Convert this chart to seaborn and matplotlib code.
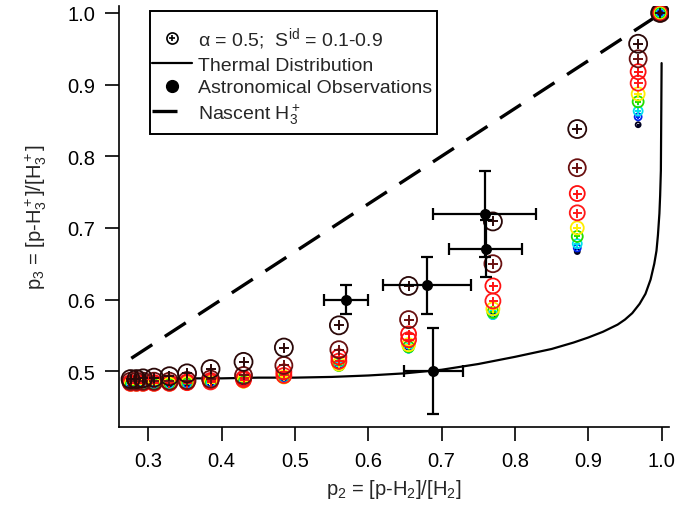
import numpy as np
import pandas as pd
import matplotlib
matplotlib.use("Agg")
import matplotlib.pyplot as plt
import seaborn as sns
from matplotlib.lines import Line2D
from matplotlib.patches import Rectangle

# ---------------- data ----------------
model_p2 = [0.276, 0.284, 0.293, 0.308, 0.329, 0.353, 0.385, 0.430, 0.485, 0.560,
            0.655, 0.770, 0.885, 0.968, 0.998]
s_levels = [0.9, 0.8, 0.7, 0.6, 0.5, 0.4, 0.3, 0.2, 0.1]
p3_s09 = [0.489, 0.489, 0.490, 0.491, 0.493, 0.497, 0.503, 0.513, 0.533, 0.564, 0.619, 0.709, 0.838, 0.957, 1.0]
p3_s08 = [0.486, 0.486, 0.486, 0.486, 0.486, 0.487, 0.489, 0.494, 0.508, 0.530, 0.572, 0.650, 0.784, 0.936, 1.0]
p3_s07 = [0.484, 0.484, 0.484, 0.484, 0.484, 0.485, 0.487, 0.490, 0.499, 0.520, 0.552, 0.619, 0.748, 0.918, 1.0]
p3_s06 = [0.483, 0.483, 0.483, 0.483, 0.483, 0.484, 0.485, 0.488, 0.494, 0.514, 0.544, 0.598, 0.721, 0.902, 1.0]
p3_s05 = [0.482, 0.482, 0.482, 0.482, 0.482, 0.483, 0.484, 0.486, 0.492, 0.510, 0.537, 0.587, 0.700, 0.887, 1.0]
p3_s04 = [0.481, 0.481, 0.482, 0.482, 0.482, 0.482, 0.483, 0.485, 0.491, 0.508, 0.534, 0.582, 0.688, 0.876, 1.0]
p3_s03 = [0.481, 0.481, 0.481, 0.481, 0.482, 0.482, 0.483, 0.485, 0.490, 0.507, 0.532, 0.579, 0.678, 0.863, 1.0]
p3_s02 = [0.481, 0.481, 0.481, 0.481, 0.481, 0.482, 0.483, 0.484, 0.490, 0.506, 0.531, 0.578, 0.672, 0.855, 1.0]
p3_s01 = [0.481, 0.481, 0.481, 0.481, 0.481, 0.482, 0.482, 0.484, 0.489, 0.506, 0.530, 0.577, 0.667, 0.844, 1.0]
model_p3 = [p3_s09, p3_s08, p3_s07, p3_s06, p3_s05, p3_s04, p3_s03, p3_s02, p3_s01]

thermal_p2 = [0.275, 0.30, 0.35, 0.40, 0.45, 0.50, 0.55, 0.60, 0.65, 0.70, 0.75, 0.80,
              0.85, 0.88, 0.90, 0.92, 0.94, 0.95, 0.96, 0.97, 0.978, 0.985, 0.990,
              0.993, 0.995, 0.997, 0.998, 0.999, 1.0]
thermal_p3 = [0.489, 0.490, 0.490, 0.490, 0.491, 0.491, 0.492, 0.494, 0.497, 0.502, 0.510, 0.520,
              0.531, 0.540, 0.547, 0.555, 0.565, 0.572, 0.581, 0.594, 0.608, 0.628, 0.650,
              0.668, 0.690, 0.720, 0.745, 0.780, 0.930]

nascent_p2 = [0.277, 1.0]
nascent_p3 = [0.518, 1.0]

obs_p2 = [0.570, 0.680, 0.759, 0.760, 0.689]
obs_p3 = [0.600, 0.620, 0.720, 0.671, 0.500]
obs_p2_err = [0.030, 0.060, 0.070, 0.050, 0.040]
obs_p3_err = [0.020, 0.040, 0.060, 0.040, 0.060]

xticks = [0.3, 0.4, 0.5, 0.6, 0.7, 0.8, 0.9, 1.0]
yticks = [0.5, 0.6, 0.7, 0.8, 0.9, 1.0]

legend_labels = ["α = 0.5;  S$^{id}$ = 0.1-0.9", "Thermal Distribution",
                 "Astronomical Observations", "Nascent H$_3^+$"]

# ---------------- style ----------------
level_colors = ["#2a0808", "#6a1010", "#ff1010", "#ff1a1a", "#ffee00",
                "#22dd00", "#00e0ee", "#0022ee", "#000020"]
level_diam_px = [18, 17, 15, 15, 13, 11, 9, 7, 5]

sns.set_style("ticks")
plt.rcParams["font.family"] = ["Liberation Sans", "DejaVu Sans"]
plt.rcParams["mathtext.fontset"] = "custom"
plt.rcParams["mathtext.rm"] = "Liberation Sans"
plt.rcParams["mathtext.it"] = "Liberation Sans"
plt.rcParams["mathtext.default"] = "regular"

fig = plt.figure(figsize=(6.99, 5.06), dpi=100)
ax = fig.add_axes([0.170, 0.154, 0.787, 0.8326])

PX = 72.0 / 100.0  # points per pixel

# thermal distribution
thermal_df = pd.DataFrame({"p2": thermal_p2, "p3": thermal_p3})
sns.lineplot(data=thermal_df, x="p2", y="p3", sort=False, estimator=None,
             color="black", linewidth=1.6, ax=ax)

# nascent H3+
nascent_df = pd.DataFrame({"p2": nascent_p2, "p3": nascent_p3})
sns.lineplot(data=nascent_df, x="p2", y="p3", sort=False, estimator=None,
             color="black", linewidth=2.4, ax=ax)
ax.lines[-1].set_dashes((7.5, 4.5))

# model points (smallest first so that the larger rings sit on top)
for p3_vals, col, d in reversed(list(zip(model_p3, level_colors, level_diam_px))):
    df = pd.DataFrame({"p2": model_p2, "p3": p3_vals})
    sns.scatterplot(data=df, x="p2", y="p3", marker="o", s=(d * PX) ** 2,
                    color=col, linewidth=1.3, ax=ax, zorder=3)
    coll = ax.collections[-1]
    coll.set_facecolor("none")
    coll.set_edgecolor(col)
    sns.scatterplot(data=df, x="p2", y="p3", marker="+", s=(d * 0.6 * PX) ** 2,
                    color=col, linewidth=1.4, ax=ax, zorder=3)

# astronomical observations
ax.errorbar(obs_p2, obs_p3, xerr=obs_p2_err, yerr=obs_p3_err, fmt="none",
            ecolor="black", elinewidth=1.6, capsize=4.5, capthick=1.6, zorder=4)
obs_df = pd.DataFrame({"p2": obs_p2, "p3": obs_p3})
sns.scatterplot(data=obs_df, x="p2", y="p3", color="black", s=(11 * PX) ** 2,
                edgecolor="black", linewidth=0, ax=ax, zorder=5)

# axes
ax.set_xlim(0.26, 1.01)
ax.set_ylim(0.422, 1.01)
ax.set_xticks(xticks)
ax.set_yticks(yticks)
ax.set_xticklabels([f"{t:.1f}" for t in xticks])
ax.set_yticklabels([f"{t:.1f}" for t in yticks])
ax.tick_params(axis="both", direction="out", length=10, width=1.2, labelsize=14.5,
               color="black", labelcolor="black", pad=7)
sns.despine(ax=ax)
for sp in ("left", "bottom"):
    ax.spines[sp].set_linewidth(1.2)
    ax.spines[sp].set_color("black")

ax.set_xlabel("p$_2$ = [p-H$_2$]/[H$_2$]", fontsize=14.5, labelpad=5)
ax.set_ylabel("p$_3$ = [p-H$_3^+$]/[H$_3^+$]", fontsize=14.5, labelpad=13)

# legend (frame drawn as a separate rectangle for tight horizontal padding)
frame = Rectangle((0.0567, 0.6957), 0.5217, 0.2920, transform=ax.transAxes,
                  facecolor="white", edgecolor="black", linewidth=1.4, zorder=6)
ax.add_patch(frame)
h_model = (Line2D([], [], linestyle="none", marker="o", markersize=8, markerfacecolor="none",
                  markeredgecolor="black", markeredgewidth=1.2),
           Line2D([], [], linestyle="none", marker="+", markersize=5, color="black",
                  markeredgewidth=1.2))
h_thermal = Line2D([], [], color="black", linewidth=1.6)
h_obs = Line2D([], [], linestyle="none", marker="o", markersize=8.5, color="black")
h_nascent = Line2D([], [], color="black", linewidth=2.4, dashes=(7.5, 4.5))
leg = ax.legend([h_model, h_thermal, h_obs, h_nascent], legend_labels,
                loc="upper left", bbox_to_anchor=(0.0604, 0.953), borderaxespad=0,
                fontsize=14, frameon=False, handlelength=2.07, handletextpad=0.3,
                labelspacing=0.25, borderpad=0)
leg.set_zorder(7)

fig.savefig("out.png", dpi=100)
